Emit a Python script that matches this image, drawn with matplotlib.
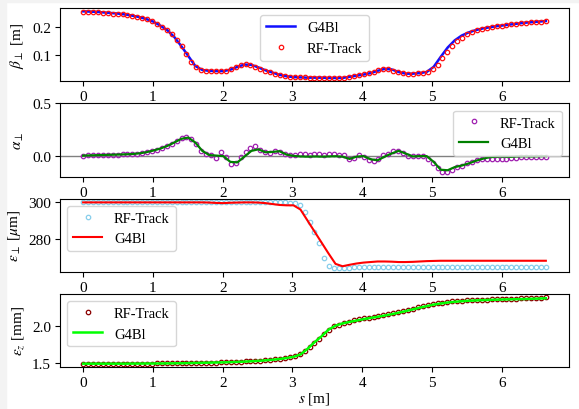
import numpy as np
import matplotlib
matplotlib.use("Agg")
import matplotlib.pyplot as plt
from matplotlib.patches import Rectangle

plt.rcParams['font.family'] = ['Liberation Serif', 'DejaVu Serif']
plt.rcParams['mathtext.fontset'] = 'stix'
plt.rcParams['font.size'] = 11
plt.rcParams['legend.fontsize'] = 10.5

# RF-Track sample positions [m] and G4Bl line positions [m]
s_rf = np.linspace(0, 6.63, 95)
s_g4 = np.linspace(0, 6.63, 67)

beta_rf = [0.253, 0.253, 0.252, 0.251, 0.250, 0.249, 0.247, 0.246, 0.244, 0.242,
           0.239, 0.236, 0.232, 0.227, 0.220, 0.210, 0.199, 0.188, 0.174, 0.155,
           0.132, 0.106, 0.078, 0.058, 0.049, 0.046, 0.045, 0.045, 0.045, 0.047,
           0.052, 0.059, 0.066, 0.069, 0.067, 0.061, 0.054, 0.047, 0.041, 0.036,
           0.031, 0.027, 0.025, 0.024, 0.023, 0.023, 0.022, 0.022, 0.022, 0.021,
           0.021, 0.021, 0.021, 0.022, 0.025, 0.028, 0.031, 0.034, 0.037, 0.042,
           0.048, 0.052, 0.052, 0.047, 0.041, 0.037, 0.035, 0.036, 0.037, 0.039,
           0.043, 0.052, 0.068, 0.090, 0.113, 0.133, 0.150, 0.163, 0.174, 0.182,
           0.188, 0.193, 0.197, 0.200, 0.203, 0.205, 0.207, 0.209, 0.211, 0.213,
           0.214, 0.216, 0.217, 0.218, 0.221]
beta_g4 = [0.255, 0.254, 0.253, 0.251, 0.249, 0.247, 0.244, 0.240, 0.235, 0.228,
           0.219, 0.205, 0.189, 0.165, 0.133, 0.098, 0.063, 0.049, 0.046, 0.045,
           0.045, 0.050, 0.060, 0.068, 0.067, 0.058, 0.048, 0.040, 0.032, 0.027,
           0.024, 0.023, 0.022, 0.022, 0.022, 0.021, 0.021, 0.021, 0.025, 0.029,
           0.033, 0.038, 0.046, 0.053, 0.051, 0.042, 0.036, 0.036, 0.038, 0.042,
           0.060, 0.095, 0.128, 0.153, 0.170, 0.181, 0.189, 0.195, 0.199, 0.203,
           0.206, 0.209, 0.212, 0.215, 0.217, 0.219, 0.221]

alpha_rf = [0.000, 0.001, 0.002, 0.004, 0.005, 0.007, 0.008, 0.010, 0.011, 0.013,
            0.016, 0.020, 0.026, 0.035, 0.045, 0.058, 0.073, 0.093, 0.115, 0.140,
            0.165, 0.178, 0.160, 0.110, 0.045, 0.012, 0.010, -0.020, 0.030, -0.012,
            -0.080, -0.068, -0.018, 0.035, 0.070, 0.090, 0.052, 0.030, 0.028, 0.045,
            0.030, 0.012, 0.008, 0.010, 0.015, 0.012, 0.008, 0.012, 0.015, 0.010,
            0.014, 0.012, 0.008, 0.005, -0.035, -0.020, 0.002, -0.010, -0.040, -0.055,
            -0.030, 0.005, 0.020, 0.045, 0.048, 0.025, 0.000, -0.008, 0.000, -0.002,
            -0.030, -0.075, -0.120, -0.160, -0.155, -0.135, -0.112, -0.095, -0.075, -0.058,
            -0.045, -0.036, -0.030, -0.028, -0.028, -0.030, -0.030, -0.026, -0.022, -0.018,
            -0.016, -0.015, -0.015, -0.015, -0.016]
alpha_g4 = [0.000, 0.002, 0.004, 0.006, 0.008, 0.010, 0.012, 0.015, 0.021, 0.032,
            0.048, 0.067, 0.092, 0.125, 0.160, 0.172, 0.125, 0.045, 0.005, 0.000,
            -0.005, -0.060, -0.065, -0.010, 0.045, 0.060, 0.032, 0.035, 0.042, 0.010,
            -0.003, -0.008, -0.010, -0.008, -0.010, -0.008, -0.006, -0.010, -0.032, -0.010,
            -0.005, -0.035, -0.045, -0.010, 0.020, 0.045, 0.020, -0.008, -0.005, -0.005,
            -0.060, -0.135, -0.140, -0.110, -0.095, -0.075, -0.050, -0.030, -0.015, -0.010,
            -0.010, -0.012, -0.008, -0.006, -0.008, -0.006, -0.005]

emit_rf = [300.2] * 42 + [299.8, 299.5, 298.5, 294.5, 289.0, 283.5, 277.5, 269.5,
                          265.0, 264.0, 263.8, 264.0, 264.3] + [264.5] * 40
emit_g4 = [299.9] * 18 + [299.8, 299.6, 299.5, 299.7, 299.8, 299.9, 299.9, 299.8,
                          299.5, 299.0, 298.5, 298.3, 298.3, 296.0, 290.0, 284.0,
                          278.0, 272.0, 266.3, 265.0, 265.8, 266.5, 267.0, 267.3,
                          267.6, 267.6, 267.5, 267.3, 267.3, 267.4, 267.6, 267.8,
                          267.9] + [268.0] * 16

emitz_rf = [1.490, 1.490, 1.490, 1.490, 1.490, 1.490, 1.490, 1.490, 1.491, 1.491,
            1.491, 1.491, 1.492, 1.492, 1.492, 1.493, 1.494, 1.494, 1.495, 1.496,
            1.497, 1.498, 1.499, 1.500, 1.501, 1.503, 1.504, 1.505, 1.508, 1.510,
            1.512, 1.514, 1.517, 1.520, 1.523, 1.527, 1.531, 1.536, 1.541, 1.548,
            1.556, 1.566, 1.578, 1.595, 1.620, 1.660, 1.712, 1.770, 1.830, 1.890,
            1.950, 1.995, 2.020, 2.040, 2.058, 2.075, 2.090, 2.102, 2.112, 2.122,
            2.133, 2.145, 2.158, 2.172, 2.187, 2.203, 2.219, 2.235, 2.251, 2.267,
            2.282, 2.295, 2.307, 2.317, 2.326, 2.333, 2.339, 2.344, 2.348, 2.351,
            2.354, 2.357, 2.359, 2.361, 2.363, 2.365, 2.367, 2.369, 2.371, 2.373,
            2.375, 2.377, 2.379, 2.382, 2.392]
emitz_g4 = [1.490, 1.490, 1.490, 1.490, 1.490, 1.490, 1.490, 1.491, 1.491, 1.492,
            1.492, 1.493, 1.494, 1.495, 1.496, 1.498, 1.500, 1.502, 1.504, 1.506,
            1.508, 1.511, 1.514, 1.518, 1.523, 1.528, 1.535, 1.543, 1.553, 1.566,
            1.582, 1.615, 1.690, 1.780, 1.860, 1.950, 2.005, 2.035, 2.056, 2.074,
            2.093, 2.110, 2.125, 2.142, 2.160, 2.180, 2.202, 2.225, 2.248, 2.270,
            2.290, 2.305, 2.318, 2.328, 2.336, 2.342, 2.347, 2.351, 2.354, 2.357,
            2.360, 2.362, 2.364, 2.366, 2.369, 2.372, 2.376]

fig, axs = plt.subplots(4, 1, figsize=(5.79, 4.10), dpi=100)
fig.subplots_adjust(left=0.1036, right=0.9827, top=0.978, bottom=0.1024, hspace=0.30)

mk = dict(marker='o', ls='none', mfc='none', ms=3.2, mew=0.9)

# beta
ax = axs[0]
ax.plot(s_g4, beta_g4, color='#1010ff', lw=1.8, label='G4Bl')
ax.plot(s_rf, beta_rf, color='#ff1010', label='RF-Track', **mk)
ax.set_ylabel(r'$\beta_\perp$ [m]')
ax.set_yticks([0.1, 0.2])
ax.legend(loc='upper center')

# alpha
ax = axs[1]
ax.axhline(0, color='gray', lw=1, zorder=0)
ax.plot(s_rf, alpha_rf, color='#a020b0', label='RF-Track', **mk)
ax.plot(s_g4, alpha_g4, color='green', lw=1.6, label='G4Bl')
ax.set_ylim(-0.2, 0.5)
ax.set_yticks([0.0, 0.5])
ax.set_ylabel(r'$\alpha_\perp$')
ax.legend(loc='upper right')

# transverse emittance
ax = axs[2]
ax.plot(s_rf, emit_rf, color='#87ceeb', label='RF-Track', **mk)
ax.plot(s_g4, emit_g4, color='red', lw=1.5, label='G4Bl')
ax.set_yticks([280, 300])
ax.set_ylabel(r'$\varepsilon_\perp$ [$\mu$m]')
ax.legend(loc='upper left')

# longitudinal emittance
ax = axs[3]
ax.plot(s_rf, emitz_rf, color='darkred', label='RF-Track', **mk)
ax.plot(s_g4, emitz_g4, color='lime', lw=1.8, label='G4Bl')
ax.set_yticks([1.5, 2.0])
ax.set_ylabel(r'$\varepsilon_z$ [mm]')
ax.set_xlabel(r'$s$ [m]', labelpad=1)
ax.legend(loc='upper left')

for ax in axs:
    ax.set_xticks(range(7))
    ax.tick_params(pad=3)

# light strip along the left and top edge of the original image
fig.patches.append(Rectangle((0, 0), 6 / 579, 1, transform=fig.transFigure,
                             color='#f3f3f3', zorder=-1))
fig.patches.append(Rectangle((0, 1 - 3 / 410), 1, 3 / 410, transform=fig.transFigure,
                             color='#f3f3f3', zorder=-1))

plt.savefig('out.png', dpi=100)
